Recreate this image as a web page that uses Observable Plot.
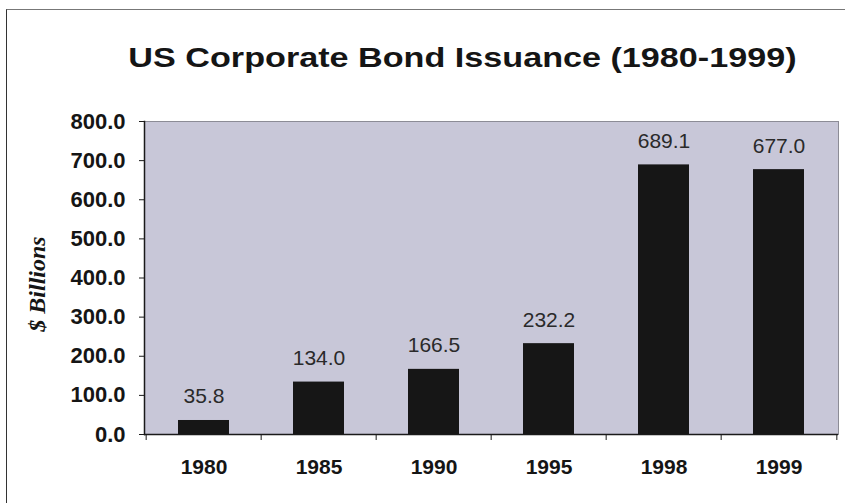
<!DOCTYPE html>
<html>
<head>
<meta charset="utf-8">
<script src="https://cdn.jsdelivr.net/npm/d3@7"></script>
<script src="https://cdn.jsdelivr.net/npm/@observablehq/plot@0.6"></script>
<style>
  html, body { margin: 0; padding: 0; background: #fff; width: 845px; height: 503px; overflow: hidden; }
  #outer { position: absolute; left: 6px; top: 9px; width: 900px; height: 600px;
           border-left: 1.5px solid #333; border-top: 1px solid #777; }
  #title { position: absolute; left: 80px; width: 765px; top: 44px; text-align: center;
           font-family: "Liberation Sans", Arial, sans-serif; font-weight: bold; font-size: 28px;
           line-height: 28px; color: #151515; transform: scaleX(1.22); transform-origin: 50% 50%; white-space: nowrap; }
  #chart { position: absolute; left: 0; top: 0; }
</style>
</head>
<body>
<div id="outer"></div>
<div id="chart"></div>
<div id="title">US Corporate Bond Issuance (1980-1999)</div>
<script>
const title = "US Corporate Bond Issuance (1980-1999)";
const years = ["1980", "1985", "1990", "1995", "1998", "1999"];
const values = [35.8, 134.0, 166.5, 232.2, 689.1, 677.0];
const yTicks = [0, 100, 200, 300, 400, 500, 600, 700, 800];
const yLabel = "$ Billions";

const data = years.map((year, i) => ({year, value: values[i]}));

const W = 845, H = 503;
const mL = 144, mR = 7, mT = 121, mB = 69;
const step = (W - mL - mR) / years.length;

const plot = Plot.plot({
  width: W,
  height: H,
  marginLeft: mL,
  marginRight: mR,
  marginTop: mT,
  marginBottom: mB,
  style: {background: "transparent", fontFamily: "'Liberation Sans', Arial, sans-serif", color: "#151515"},
  x: {type: "band", domain: years, paddingInner: 0.56, paddingOuter: 0.28, axis: null},
  y: {domain: [0, 800], axis: null},
  marks: [
    Plot.frame({fill: "#c8c7d8", stroke: "#8c8c96"}),
    Plot.barY(data, {x: "year", y: "value", fill: "#161616"}),
    Plot.text(data, {x: "year", y: "value", text: d => d.value.toFixed(1), dy: -17, lineAnchor: "bottom",
      fontSize: 21, fill: "#2a2a2a"}),
    Plot.frame({anchor: "left", stroke: "#1a1a1a", strokeWidth: 1.5}),
    Plot.ruleY([0], {stroke: "#1a1a1a", strokeWidth: 1.5}),
    Plot.ruleX(years, {x: d => d, y1: 0, y2: 0, insetBottom: -6, dx: -step / 2, stroke: "#1a1a1a"}),
    Plot.ruleX(years.slice(-1), {x: d => d, y1: 0, y2: 0, insetBottom: -6, dx: step / 2, stroke: "#1a1a1a"}),
    Plot.axisY({ticks: yTicks, tickFormat: d => d.toFixed(1), tickSize: 5, tickPadding: 14,
      fontSize: 22, fontWeight: "bold", label: null, stroke: "#1a1a1a"}),
    Plot.axisX({tickSize: 0, tickPadding: 25, fontSize: 21, fontWeight: "bold", label: null}),
    Plot.text([yLabel], {frameAnchor: "left", textAnchor: "middle", lineAnchor: "middle", rotate: -90, dx: -107, dy: 6,
      fontFamily: "'Liberation Serif', 'Times New Roman', serif", fontStyle: "italic",
      fontWeight: "bold", fontSize: 24, fill: "#151515"})
  ]
});
document.getElementById("chart").appendChild(plot);
</script>
</body>
</html>
